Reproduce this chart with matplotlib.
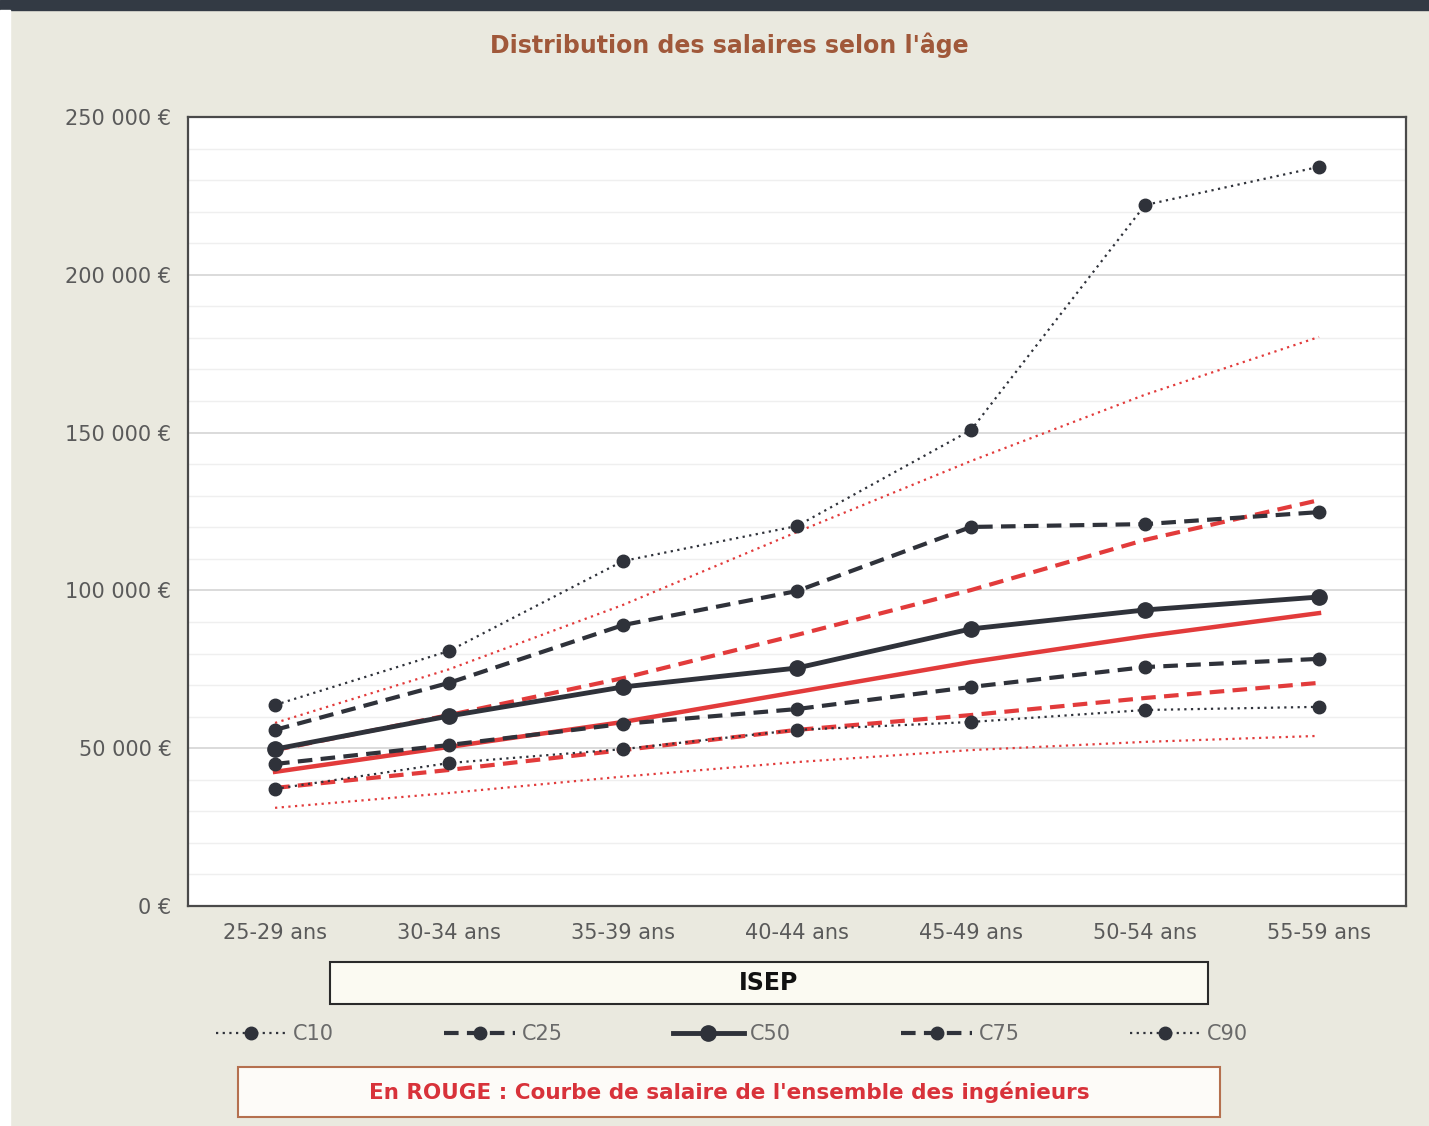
import matplotlib.pyplot as plt
from matplotlib.patches import Rectangle
from matplotlib.ticker import MultipleLocator, FuncFormatter

# Tranches d'âge
ages = ["25-29 ans", "30-34 ans", "35-39 ans", "40-44 ans", "45-49 ans", "50-54 ans", "55-59 ans"]

# ISEP (noir), en euros
isep_c10 = [37100, 45300, 49700, 55800, 58300, 62100, 63100]
isep_c25 = [45000, 51000, 57700, 62400, 69400, 75700, 78300]
isep_c50 = [49700, 60200, 69400, 75400, 87800, 93800, 97900]
isep_c75 = [55800, 70700, 89000, 99800, 120100, 121000, 124800]
isep_c90 = [63700, 80800, 109300, 120400, 150800, 222100, 234200]

# Ensemble des ingénieurs (rouge)
ing_c10 = [31100, 35800, 41000, 45600, 49400, 52000, 53900]
ing_c25 = [37400, 43100, 49400, 55800, 60500, 65900, 70700]
ing_c50 = [42500, 50400, 58300, 67800, 77300, 85500, 92800]
ing_c75 = [49400, 60500, 72200, 85900, 100100, 116000, 128600]
ing_c90 = [58000, 75000, 95400, 118500, 141000, 162000, 180300]

BG = "#eae9df"
DARK = "#2f323a"
RED = "#e23b3b"
DASH = (0, (3.5, 2))
DOT = (0, (1, 2))

fig = plt.figure(figsize=(14.29, 11.26), dpi=100, facecolor=BG)

# bandeau du haut + marge blanche à gauche
fig.add_artist(Rectangle((0, 1 - 10 / 1126), 1, 10 / 1126, transform=fig.transFigure,
                         color="#333a44", zorder=0))
fig.add_artist(Rectangle((0, 0), 10 / 1429, 1 - 10 / 1126, transform=fig.transFigure,
                         color="white", zorder=0))

ax = fig.add_axes([0.1316, 0.1954, 0.8523, 0.7007])
ax.set_facecolor("white")
x = range(len(ages))

# courbes rouges (sans marqueurs)
ax.plot(x, ing_c10, color=RED, lw=1.6, ls=DOT, zorder=2)
ax.plot(x, ing_c25, color=RED, lw=3.0, ls=DASH, zorder=2)
ax.plot(x, ing_c50, color=RED, lw=3.2, zorder=2)
ax.plot(x, ing_c75, color=RED, lw=3.0, ls=DASH, zorder=2)
ax.plot(x, ing_c90, color=RED, lw=1.6, ls=DOT, zorder=2)

# courbes ISEP
mk = dict(marker="o", color=DARK, markersize=9, zorder=3)
ax.plot(x, isep_c10, ls=DOT, lw=1.6, label="C10", **mk)
ax.plot(x, isep_c25, ls=DASH, lw=3.0, label="C25", **mk)
ax.plot(x, isep_c50, ls="-", lw=3.5, marker="o", color=DARK, markersize=11, zorder=3, label="C50")
ax.plot(x, isep_c75, ls=DASH, lw=3.0, label="C75", **mk)
ax.plot(x, isep_c90, ls=DOT, lw=1.6, label="C90", **mk)

ax.set_xlim(-0.5, 6.5)
ax.set_ylim(0, 250000)
ax.set_xticks(list(x))
ax.set_xticklabels(ages)
ax.yaxis.set_major_locator(MultipleLocator(50000))
ax.yaxis.set_minor_locator(MultipleLocator(10000))
ax.yaxis.set_major_formatter(FuncFormatter(lambda v, p: f"{int(v):,} €".replace(",", " ")))
ax.grid(axis="y", which="major", color="#d4d4d4", lw=1.2)
ax.grid(axis="y", which="minor", color="#efefef", lw=1.0)
ax.set_axisbelow(True)
ax.tick_params(which="both", length=0, colors="#5a5a5a", labelsize=15, pad=12)
for s in ax.spines.values():
    s.set_color("#4a4a4a")
    s.set_linewidth(1.6)

fig.text(729 / 1429, 1 - 45 / 1126, "Distribution des salaires selon l'âge", ha="center", va="center",
         fontsize=17, fontweight="bold", color="#a0583a")

# boîte ISEP
fig.add_artist(Rectangle((330 / 1429, 1 - 1004 / 1126), 878 / 1429, 42 / 1126,
                         transform=fig.transFigure, facecolor="#fbfaf2", edgecolor="#2a2a2a", lw=1.5))
fig.text(769 / 1429, 1 - 983 / 1126, "ISEP", ha="center", va="center", fontsize=17,
         fontweight="bold", color="#111111")

fig.legend(loc="center", bbox_to_anchor=(732 / 1429, 1 - 1034 / 1126), ncol=5, frameon=False,
           fontsize=15, handlelength=3.4, columnspacing=5.3, handletextpad=0.3, numpoints=1,
           labelcolor="#6a6a6a")

# boîte rouge
fig.add_artist(Rectangle((238 / 1429, 1 - 1117 / 1126), 982 / 1429, 50 / 1126,
                         transform=fig.transFigure, facecolor="#fdfbf8", edgecolor="#b5704f", lw=1.5))
fig.text(729 / 1429, 1 - 1092 / 1126, "En ROUGE : Courbe de salaire de l'ensemble des ingénieurs",
         ha="center", va="center", fontsize=15.5, fontweight="bold", color="#d8323a")

fig.savefig("out.png", dpi=100, facecolor=BG)
